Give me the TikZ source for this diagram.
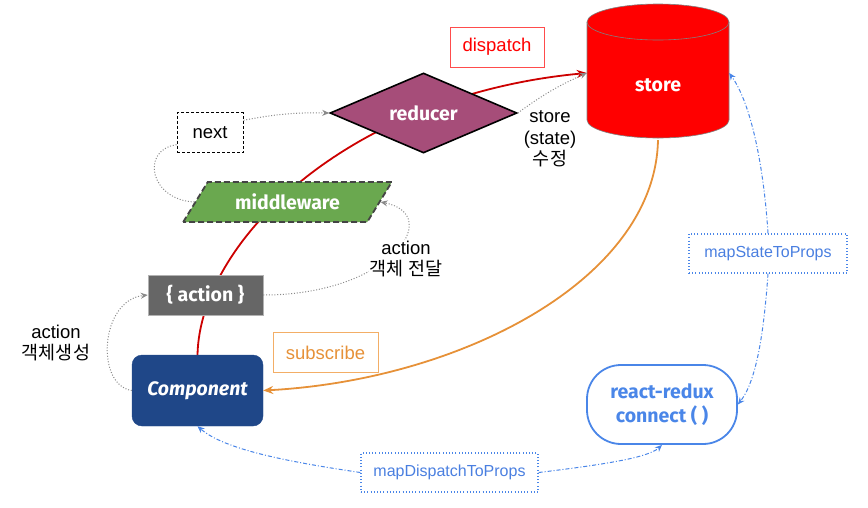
\documentclass[tikz,border=0pt]{standalone}
\usepackage{fontspec}
\setmainfont{Liberation Sans}
\newfontfamily\kr{Noto Sans CJK KR}
\newfontfamily\labfont{Fira Sans}
\usetikzlibrary{shapes.geometric,arrows.meta}
\pgfdeclarelayer{bg}
\pgfsetlayers{bg,main}
\definecolor{storered}{HTML}{FF0000}
\definecolor{redline}{HTML}{CC0000}
\definecolor{reducerpurple}{HTML}{A64D79}
\definecolor{mwgreen}{HTML}{6AA84F}
\definecolor{mwborder}{HTML}{444444}
\definecolor{actgray}{HTML}{666666}
\definecolor{compblue}{HTML}{1F4788}
\definecolor{orangeline}{HTML}{E69138}
\definecolor{orangebox}{HTML}{F3AE66}
\definecolor{blueline}{HTML}{4A86E8}
\definecolor{bluetext}{HTML}{4A7FE0}
\definecolor{dotgray}{HTML}{8A8A8A}
\tikzset{
  plaintext/.style={font=\fontsize{18.5}{21.5}\selectfont, align=center, inner sep=0pt},
  boldlab/.style={font=\labfont\bfseries\fontsize{19.5}{24}\selectfont, text=white, align=center, inner sep=0pt},
  bluebox/.style={draw=blueline, line width=1.3pt, dash pattern=on 1pt off 2.2pt, text=bluetext,
    font=\fontsize{16}{19}\selectfont, minimum height=39pt, inner sep=0pt},
  gdot/.style={draw=dotgray, line width=1pt, dash pattern=on 1pt off 1.8pt},
  garrow/.style={gdot, -{Stealth[length=7pt,width=6pt]}},
  bdash/.style={draw=blueline, line width=1pt, dash pattern=on 4pt off 2pt on 1pt off 2pt,
    -{Stealth[length=7pt,width=6pt]}},
}
\begin{document}
\begin{tikzpicture}[x=1pt,y=-1pt]
\useasboundingbox (0,0) rectangle (868,507);
% store cylinder
\fill[storered, draw=gray, line width=0.6pt] (587,22) -- (587,120)
  arc[start angle=180,end angle=360,x radius=71pt,y radius=18pt] -- (729,22)
  arc[start angle=0,end angle=180,x radius=71pt,y radius=18pt] -- cycle;
\draw[gray, line width=0.6pt] (587,22) arc[start angle=180,end angle=360,x radius=71pt,y radius=18pt];
\node[boldlab, minimum width=142pt, minimum height=134pt] (store) at (658,73) {\raisebox{-18pt}[0pt][0pt]{store}};

% boxes
\node[draw=storered!70, line width=0.8pt, text=storered, font=\fontsize{18.5}{22}\selectfont,
  minimum width=94pt, minimum height=40pt, inner sep=0pt] (dispatch) at (497,47) {dispatch};
\node[diamond, fill=reducerpurple, draw=black, line width=1.6pt, minimum width=187pt,
  minimum height=80pt, inner sep=0pt, aspect=2.3, boldlab] (reducer) at (423.5,113) {reducer};
\node[plaintext] (storelab) at (550,139) {store\\(state)\\{\kr 수정}};
\node[draw=black, line width=1pt, dash pattern=on 3pt off 2pt, plaintext,
  minimum width=66pt, minimum height=40pt] (next) at (210,132.5) {next};
\node[trapezium, trapezium left angle=45, trapezium right angle=135, trapezium stretches=true,
  minimum width=209pt, minimum height=40pt, fill=mwgreen, draw=mwborder, line width=1.8pt,
  dash pattern=on 6pt off 3pt, boldlab] (mw) at (287.5,202) {middleware};
\node[fill=actgray, draw=gray!60, line width=0.5pt, minimum width=115pt, minimum height=40pt, boldlab]
  (act) at (205.5,295) {\{ action \}};
\node[fill=compblue, draw=compblue, rounded corners=10pt, minimum width=131pt, minimum height=71pt,
  boldlab, font=\labfont\bfseries\itshape\fontsize{19.5}{22}\selectfont] (comp) at (197.5,390.5) {Component};
\node[draw=orangebox, line width=0.9pt, text=orangeline, font=\fontsize{18.5}{22}\selectfont,
  minimum width=105pt, minimum height=40pt, inner sep=0pt] (subscribe) at (325.5,352.5) {subscribe};
\node[draw=blueline, line width=1.8pt, rounded corners=34pt, minimum width=150pt, minimum height=79pt,
  boldlab, text=blueline] (rr) at (662,404.5) {react-redux\\connect ( )};
\node[bluebox, minimum width=158pt] (mapS) at (768,253.5) {mapStateToProps};
\node[bluebox, minimum width=177pt] (mapD) at (449.5,472.5) {mapDispatchToProps};
\node[plaintext] (actlab) at (56,343) {action\\{\kr 객체생성}};

% red dispatch curve (behind nodes)
\begin{pgfonlayer}{bg}
\draw[redline, line width=1.8pt, -{Stealth[length=10pt,width=8pt]}]
  (comp.north) .. controls (200,240) and (350,95) .. (store.west);
\end{pgfonlayer}
% orange subscribe curve
\draw[orangeline, line width=1.8pt, -{Stealth[length=10pt,width=8pt]}]
  (store.south) .. controls (655,280) and (460,380) .. (comp.east);
% gray dotted connectors
\draw[garrow] (next.20) to[bend left=6] (reducer.west);
\draw[gdot] (mw.left side) .. controls (150,200) and (140,150) .. (next.200);
\draw[garrow] (act.east) .. controls (390,295) and (445,215) .. (mw.right side);
\node[plaintext, fill=white, inner sep=1pt] (sendlab) at (406,259) {action\\{\kr 객체 전달}};
\draw[garrow] (comp.west) .. controls (95,385) and (100,300) .. (act.west);
\draw[garrow] (reducer.east) to[bend left=6] (store.west);
% blue connectors
\draw[bdash] (mapS.north) .. controls (764,170) and (752,105) .. (store.east);
\draw[bdash] (mapS.south) .. controls (764,330) and (757,380) .. (rr.east);
\draw[bdash] (mapD.west) .. controls (290,462) and (225,450) .. (comp.south);
\draw[bdash] (mapD.east) .. controls (600,465) and (648,458) .. (rr.south);
\end{tikzpicture}
\end{document}
